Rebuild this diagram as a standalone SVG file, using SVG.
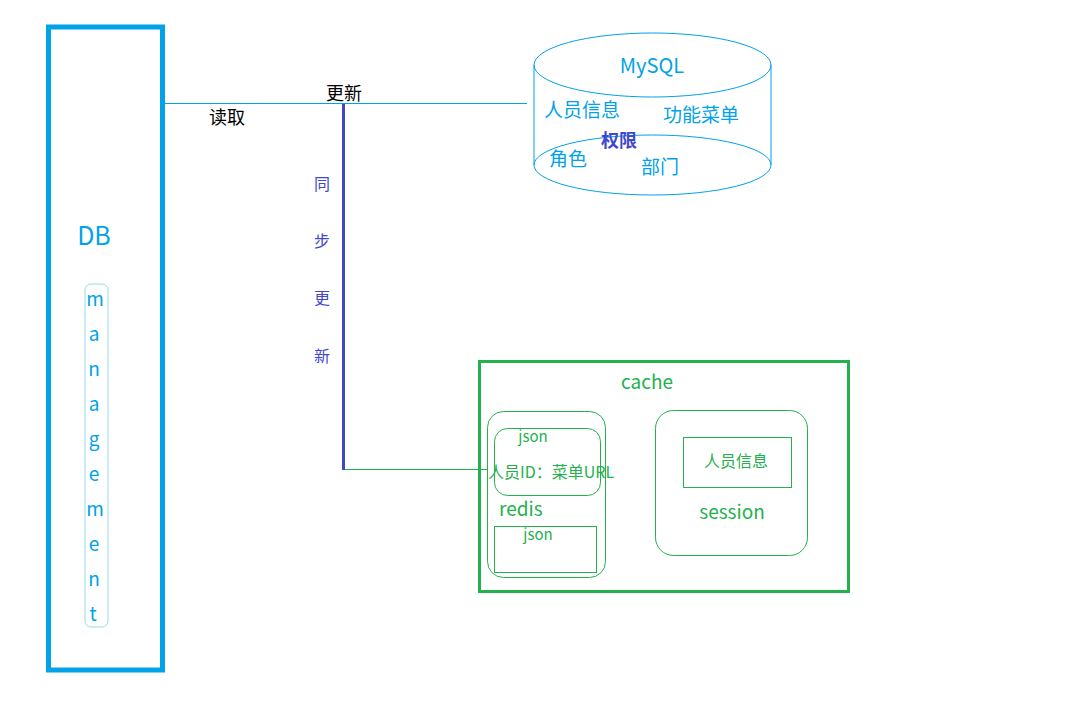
<svg xmlns="http://www.w3.org/2000/svg" width="1086" height="706" viewBox="0 0 1086 706">
<style>
text{font-family:"Noto Sans CJK SC","Noto Sans",sans-serif;}
.b{fill:#00a2e8;}
.g{fill:#22b14c;}
.p{fill:#3f48cc;}
.k{fill:#000;}
.mid{text-anchor:middle;}
.sb{fill:none;stroke:#00a2e8;stroke-width:1;}
.sg{fill:none;stroke:#22b14c;stroke-width:1;}
</style>
<rect width="1086" height="706" fill="#fff"/>
<g id="db">
<rect x="48.5" y="27" width="114" height="643" fill="none" stroke="#00a2e8" stroke-width="5"/>
<text class="b mid" x="94" y="245" font-size="25">DB</text>
<rect x="85" y="284" width="23" height="343" rx="6" fill="none" stroke="#99d9ea" stroke-width="1"/>
<g class="b mid" font-size="19">
<text x="95" y="306">m</text>
<text x="94" y="341">a</text>
<text x="94" y="376">n</text>
<text x="94" y="411">a</text>
<text x="94" y="446">g</text>
<text x="94" y="481">e</text>
<text x="95" y="516">m</text>
<text x="94" y="551">e</text>
<text x="94" y="586">n</text>
<text x="93" y="621">t</text>
</g>
</g>
<g id="mysql">
<path class="sb" d="M534,65 V165 M771,65 V165"/>
<ellipse class="sb" cx="652.5" cy="65" rx="118.5" ry="32" fill="#fff"/>
<ellipse class="sb" cx="652.5" cy="165" rx="118.5" ry="30"/>
<text class="b mid" x="652" y="73" font-size="20">MySQL</text>
<text class="b" x="544" y="117" font-size="19">人员信息</text>
<text class="b" x="663" y="122" font-size="19">功能菜单</text>
<text class="p" x="601" y="147" font-size="18" font-weight="bold">权限</text>
<text class="b" x="549" y="166" font-size="19">角色</text>
<text class="b" x="641" y="174" font-size="19">部门</text>
</g>
<g id="cache">
<rect x="479.5" y="361.5" width="369" height="230" fill="none" stroke="#22b14c" stroke-width="3"/>
<text class="g mid" x="647" y="389" font-size="19">cache</text>
</g>
<g id="redis">
<rect class="sg" x="487.5" y="411.5" width="118" height="166" rx="16"/>
<rect class="sg" x="494.5" y="428.5" width="106" height="67" rx="13"/>
<text class="g mid" x="533" y="442" font-size="15">json</text>
<text class="g" x="488" y="478" font-size="16">人员ID：菜单URL</text>
<text class="g" x="499" y="516" font-size="19">redis</text>
<rect class="sg" x="494.5" y="526.5" width="102" height="46"/>
<text class="g mid" x="538" y="540" font-size="15">json</text>
</g>
<g id="session">
<rect class="sg" x="655.5" y="410.5" width="152" height="145" rx="18"/>
<rect class="sg" x="683.5" y="437.5" width="108" height="50"/>
<text class="g mid" x="736" y="467" font-size="16">人员信息</text>
<text class="g mid" x="732" y="519" font-size="19">session</text>
</g>
<g id="connectors">
<line x1="165" y1="103.5" x2="527" y2="103.5" stroke="#00a2e8" stroke-width="1"/>
<line x1="343.5" y1="104" x2="343.5" y2="470" stroke="#3f48cc" stroke-width="3"/>
<line x1="345" y1="469.5" x2="487" y2="469.5" stroke="#22b14c" stroke-width="1"/>
<text class="k" x="326" y="100" font-size="18">更新</text>
<text class="k" x="209" y="124" font-size="18">读取</text>
<g class="p mid" font-size="16">
<text x="322" y="190">同</text>
<text x="322" y="247">步</text>
<text x="322" y="304">更</text>
<text x="322" y="362">新</text>
</g>
</g>
</svg>
